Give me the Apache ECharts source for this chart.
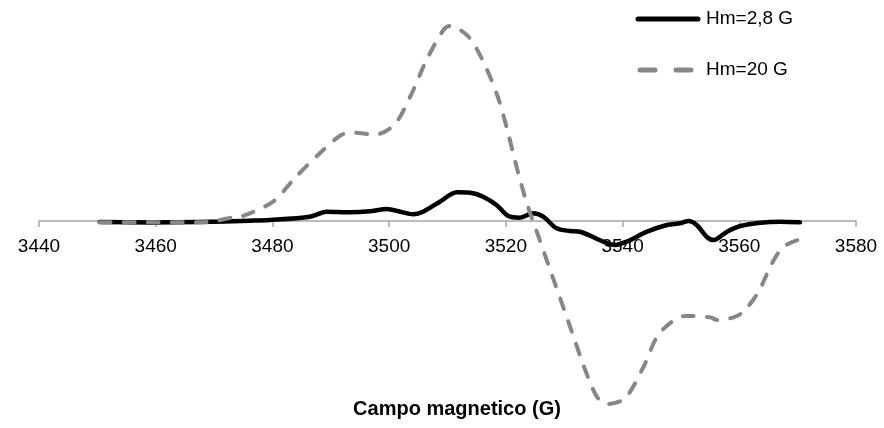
<!DOCTYPE html>
<html>
<head>
<meta charset="utf-8">
<script src="https://cdn.jsdelivr.net/npm/echarts@6/dist/echarts.min.js"></script>
<style>
html,body{margin:0;padding:0;background:#fff;}
#chart{width:884px;height:428px;}
</style>
</head>
<body>
<div id="chart"></div>
<script>
// Series names
var seriesNames = ['Hm=2,8 G', 'Hm=20 G'];
// X axis tick settings
var xTicks = [3440, 3460, 3480, 3500, 3520, 3540, 3560, 3580];
var axisTitle = 'Campo magnetico (G)';

// Hm=2,8 G (solid black)
var blackX = [3450.4, 3459.0, 3467.5, 3476.1, 3479.5, 3486.4, 3489.3, 3493.3, 3496.7, 3499.6,
              3501.9, 3504.1, 3505.8, 3508.7, 3511.6, 3513.9, 3516.1, 3518.4, 3520.4, 3522.4,
              3524.6, 3526.4, 3528.7, 3531.0, 3532.7, 3536.7, 3538.7, 3540.7, 3544.2, 3547.6,
              3549.9, 3551.3, 3552.7, 3554.4, 3555.6, 3557.9, 3560.2, 3563.6, 3567.0, 3570.4];
var blackY = [-1, -1.5, -1, 0.3, 1, 4.3, 9.3, 8.7, 9.7, 12,
              9.3, 6.7, 9.3, 19.3, 28.7, 28.3, 24.3, 16, 5, 3.3,
              7.7, 4.3, -7.3, -10, -10.7, -20.7, -24, -20.7, -10.7, -4,
              -2.3, 0, -4, -15.7, -19, -10.7, -5, -1.7, -0.7, -1.3];

// Hm=20 G (dashed grey)
var dashX = [3450.4, 3459.0, 3468.0, 3470.4, 3473.8, 3474.9, 3480.1, 3483.8, 3487.8, 3491.8,
             3494.4, 3496.4, 3497.8, 3501.0, 3503.8, 3506.4, 3509.3, 3510.4, 3513.6, 3516.4,
             3518.7, 3520.4, 3521.9, 3523.6, 3525.6, 3527.6, 3529.6, 3531.6, 3533.6, 3535.6,
             3537.3, 3540.4, 3543.6, 3546.1, 3549.3, 3551.0, 3555.0, 3556.2, 3559.0, 3560.7,
             3563.3, 3565.6, 3567.6, 3570.4];
var dashY = [-1.3, -1.3, -1.3, 0.3, 4.3, 5, 19.3, 42.7, 66, 86,
             88.3, 87, 86.7, 97, 126.7, 161, 191, 195, 184.3, 156,
             122.7, 87.7, 52.7, 17.7, -15.7, -49, -82.3, -115.7, -149, -175.7,
             -183, -177.3, -145.7, -114, -97.3, -95, -96.3, -99, -96.3, -90.7,
             -70.7, -42.3, -25.7, -18.3];

function pairs(xs, ys) {
  var out = [];
  for (var i = 0; i < xs.length; i++) out.push([xs[i], ys[i]]);
  return out;
}

var chart = echarts.init(document.getElementById('chart'), null, {renderer: 'canvas'});
var font = '"Liberation Sans", Arial, sans-serif';
var gridTop = 21, gridBottom = 7, yMin = -200, yMax = 200;
var plotH = 428 - gridTop - gridBottom;
// distance from grid bottom up to the y = 0 line
var zeroOffset = plotH * (0 - yMin) / (yMax - yMin);

chart.setOption({
  animation: false,
  backgroundColor: '#ffffff',
  grid: {left: 39, right: 28, top: gridTop, bottom: gridBottom, containLabel: false, outerBoundsMode: 'none'},
  xAxis: {
    type: 'value',
    position: 'bottom',
    offset: -zeroOffset,
    min: xTicks[0],
    max: xTicks[xTicks.length - 1],
    interval: 20,
    axisLine: {onZero: false, lineStyle: {color: '#a6a6a6', width: 1.5}},
    axisTick: {show: true, inside: false, length: 6, lineStyle: {color: '#a6a6a6', width: 1.5}},
    axisLabel: {fontFamily: font, fontSize: 19, color: '#000', margin: 16,
                formatter: function (v) { return String(v); }},
    splitLine: {show: false}
  },
  yAxis: {
    type: 'value',
    min: yMin,
    max: yMax,
    show: false,
    splitLine: {show: false}
  },
  graphic: [
    {type: 'line', shape: {x1: 638, y1: 19, x2: 698, y2: 19},
     style: {stroke: '#000', lineWidth: 5, lineCap: 'round'}},
    {type: 'text', x: 706, y: 19,
     style: {text: seriesNames[0], fontFamily: font, fontSize: 19, fill: '#000', textVerticalAlign: 'middle'}},
    {type: 'line', shape: {x1: 640, y1: 70, x2: 696, y2: 70},
     style: {stroke: '#878787', lineWidth: 5, lineCap: 'round', lineDash: [15, 21]}},
    {type: 'text', x: 706, y: 70,
     style: {text: seriesNames[1], fontFamily: font, fontSize: 19, fill: '#000', textVerticalAlign: 'middle'}},
    {type: 'text', x: 457, y: 409,
     style: {text: axisTitle, fontFamily: font, fontSize: 20, fontWeight: 'bold', fill: '#000',
             textAlign: 'center', textVerticalAlign: 'middle'}}
  ],
  series: [
    {
      name: seriesNames[0],
      type: 'line',
      data: pairs(blackX, blackY),
      symbol: 'none',
      smooth: 0.3,
      z: 2,
      lineStyle: {color: '#000000', width: 4.5, cap: 'round', join: 'round'},
      itemStyle: {color: '#000000'}
    },
    {
      name: seriesNames[1],
      type: 'line',
      data: pairs(dashX, dashY),
      symbol: 'none',
      smooth: 0.3,
      z: 3,
      lineStyle: {color: '#878787', width: 4, type: [11, 13], cap: 'round', join: 'round'},
      itemStyle: {color: '#878787'}
    }
  ]
});
</script>
</body>
</html>
